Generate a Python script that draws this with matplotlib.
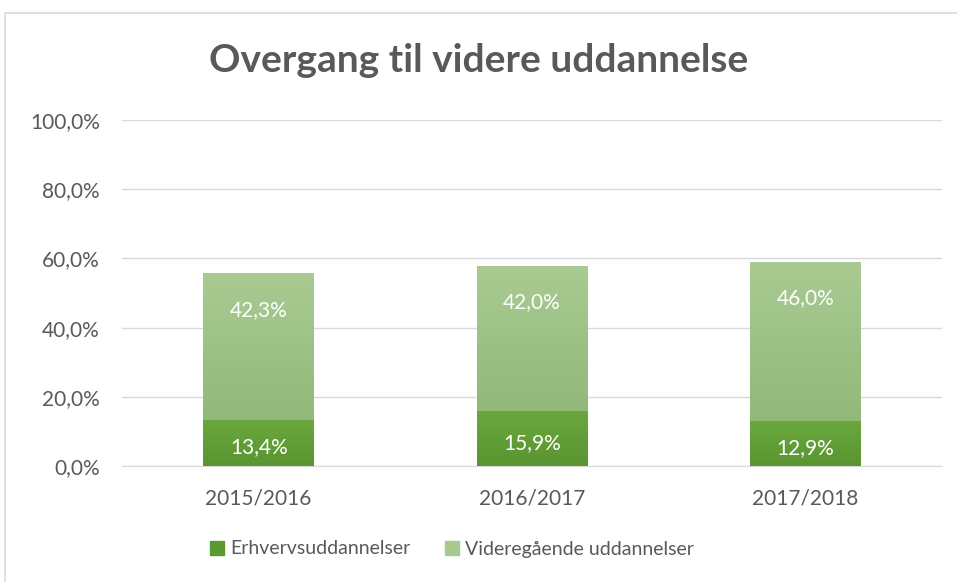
import matplotlib
matplotlib.use("Agg")
import matplotlib.pyplot as plt
import numpy as np
from matplotlib.patches import Rectangle
from matplotlib.colors import LinearSegmentedColormap

categories = ["2015/2016", "2016/2017", "2017/2018"]
erhverv = [13.4, 15.9, 12.9]
videre = [42.3, 42.0, 46.0]
series_names = ["Erhvervsuddannelser", "Videregående uddannelser"]
yticks = [0, 20, 40, 60, 80, 100]

plt.rcParams['font.family'] = ['Lato', 'DejaVu Sans']
W, H = 957, 582
fig = plt.figure(figsize=(W/100, H/100), dpi=100)
fig.patch.set_facecolor('white')
fig.add_artist(Rectangle((5/W, -0.2), 1.2, 1.2 - 13/H, transform=fig.transFigure,
                         fill=False, edgecolor='#d9d9d9', linewidth=1.2))

ax = fig.add_axes([122/W, 1 - 466/H, (942-122)/W, (466-120)/H])
x = np.arange(len(categories))
bw = 0.405
b1 = ax.bar(x, erhverv, bw, color='#5b9a32', label=series_names[0], zorder=3)
b2 = ax.bar(x, videre, bw, bottom=erhverv, color='#a6c98e', label=series_names[1], zorder=3)

cm1 = LinearSegmentedColormap.from_list('g1', ['#5a9530', '#6aa83f'])
cm2 = LinearSegmentedColormap.from_list('g2', ['#92b87a', '#a9cb92'])
grad = np.linspace(0, 1, 256).reshape(-1, 1)
for bars, cm in ((b1, cm1), (b2, cm2)):
    for r in bars:
        x0, y0 = r.get_x(), r.get_y()
        w, h = r.get_width(), r.get_height()
        im = ax.imshow(grad, extent=[x0, x0 + w, y0, y0 + h], origin='lower',
                       cmap=cm, aspect='auto', zorder=3.5)
        im.set_clip_path(r)

for i in range(len(categories)):
    ax.text(x[i], erhverv[i] / 2 - 1.2, f"{erhverv[i]:.1f}%".replace('.', ','),
            ha='center', va='center', color='white', fontsize=15, zorder=5)
    ax.text(x[i], erhverv[i] + videre[i] - 10.5, f"{videre[i]:.1f}%".replace('.', ','),
            ha='center', va='center', color='white', fontsize=15, zorder=5)

ax.set_xlim(-0.5, len(categories) - 0.5)
ax.set_ylim(0, 100)
ax.set_yticks(yticks)
ax.set_yticklabels([f"{v:.1f}%".replace('.', ',') for v in yticks])
ax.set_xticks(x)
ax.set_xticklabels(categories)
ax.tick_params(length=0, labelsize=15, colors='#595959')
ax.tick_params(axis='y', pad=16)
ax.tick_params(axis='x', pad=16)
ax.grid(axis='y', color='#d9d9d9', linewidth=1, zorder=0)
for s in ['top', 'right', 'left']:
    ax.spines[s].set_visible(False)
ax.spines['bottom'].set_color('#d9d9d9')
ax.set_facecolor('none')

fig.text(0.5, 1 - 60/H, "Overgang til videre uddannelse", ha='center', va='center',
         fontsize=28, fontweight='bold', color='#595959')

h1 = Rectangle((0, 0), 1, 1, color='#5b9a32')
h2 = Rectangle((0, 0), 1, 1, color='#a6c98e')
leg = fig.legend([h1, h2], series_names, loc='center', bbox_to_anchor=(452/W, 1 - 549/H),
                 ncol=2, frameon=False, fontsize=14, handlelength=0.72, handleheight=0.72,
                 handletextpad=0.3, columnspacing=1.8, borderpad=0)
for t in leg.get_texts():
    t.set_color('#595959')

fig.savefig("out.png", dpi=100)
